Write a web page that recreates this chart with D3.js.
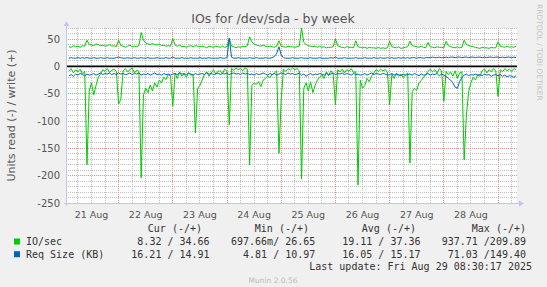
<!doctype html>
<html>
<head>
<meta charset="utf-8">
<title>IOs for /dev/sda - by week</title>
<script src="https://d3js.org/d3.v7.min.js"></script>
<style>
  body { margin: 0; background: #f0f0f0; }
  svg { display: block; }
</style>
</head>
<body>
<div id="chart"></div>
<script>
// hourly samples, first one at Aug 21 02:00
var startTime = new Date(2025, 7, 21, 2, 0);

// write IO/sec (+)
var writeIO = [
  36,35,38,36,37,35,38,37,48,40,
  39,38,41,40,38,39,37,38,40,37,
  38,36,48,38,37,35,37,39,36,37,
  36,38,62,48,43,41,40,42,40,39,
  41,38,39,37,38,37,51,39,37,39,
  36,37,35,37,38,36,38,37,36,37,
  36,34,37,36,35,37,36,35,37,35,
  36,51,37,36,34,36,35,37,36,38,
  54,45,41,39,38,37,39,37,36,37,
  36,35,37,47,37,36,35,37,36,36,
  35,36,37,70,44,40,38,37,36,37,
  35,37,35,36,34,35,35,36,50,38,
  36,35,34,36,35,35,34,47,36,35,
  34,35,33,35,34,34,33,35,33,34,
  33,34,46,36,35,34,36,33,34,35,
  36,46,38,37,36,35,37,35,34,44,
  36,35,34,36,35,35,34,46,38,36,
  35,34,36,34,35,48,40,38,37,36,
  35,34,33,35,34,34,33,35,34,34,
  45,37,36,35,37,35,36,35,37
];

// read IO/sec (-), drawn below zero
var readIO = [
  8,4,12,6,10,5,14,9,180,45,
  30,52,35,20,14,6,9,4,11,7,
  5,9,69,60,8,4,10,6,3,12,
  7,9,204,52,40,48,34,45,30,38,
  25,30,20,24,15,18,73,12,22,10,
  18,14,20,12,16,15,122,40,35,25,
  15,10,18,12,6,14,9,8,13,5,
  9,107,4,7,3,6,4,8,3,5,
  180,35,30,33,28,37,25,22,18,20,
  15,12,8,159,61,5,9,4,7,3,
  6,4,8,206,40,30,45,28,48,35,
  25,20,15,22,10,17,8,14,70,6,
  10,5,12,6,9,4,11,10,217,25,
  40,35,22,28,18,12,6,9,5,8,
  6,10,70,14,22,12,18,14,20,16,
  12,177,46,40,44,30,26,20,15,9,
  5,10,6,12,4,8,64,9,15,10,
  18,8,22,12,10,171,89,46,30,20,
  25,15,18,8,5,12,6,10,4,8,
  55,6,10,4,8,5,9,4,6
];

// write request size KB (+)
var writeSize = [
  15,16,15,15,16,15,16,15,16,15,
  15,16,15,15,16,15,15,16,15,15,
  15,16,17,16,15,15,16,15,15,16,
  15,15,16,15,15,16,15,15,15,16,
  15,15,15,16,15,15,17,15,15,15,
  16,15,15,15,16,15,15,15,16,15,
  15,15,16,15,15,15,15,16,15,15,
  16,52,17,15,15,16,15,15,15,15,
  16,15,15,16,15,15,15,16,15,15,
  16,18,24,36,21,16,15,15,15,16,
  15,15,15,16,15,15,15,16,15,15,
  15,16,15,15,15,15,16,15,17,15,
  15,15,16,15,15,15,15,16,15,15,
  15,16,15,15,15,16,15,15,16,15,
  15,16,15,16,15,15,16,15,16,15,
  16,15,16,16,15,16,16,15,16,16,
  16,17,16,16,17,16,16,17,16,17,
  17,16,17,17,16,17,17,16,17,17,
  16,17,17,16,17,16,17,17,16,17,
  17,16,17,16,17,17,16,17,16
];

// read request size KB (-)
var readSize = [
  17,15,18,14,16,13,15,17,14,16,
  15,13,16,14,12,15,13,14,12,15,
  13,15,12,14,13,15,14,12,15,13,
  14,12,16,14,15,13,16,14,12,15,
  14,16,13,15,14,16,14,13,15,12,
  14,13,15,12,14,16,13,15,14,13,
  15,12,14,13,15,14,12,15,13,14,
  12,15,13,12,14,13,15,12,14,13,
  15,14,16,13,15,14,12,14,16,13,
  15,13,16,14,12,13,15,12,14,13,
  15,14,12,16,14,18,15,13,16,14,
  15,13,14,16,13,15,14,12,15,13,
  14,12,15,13,14,16,13,15,14,16,
  15,13,16,14,12,15,13,14,15,13,
  14,16,15,13,16,14,15,17,14,16,
  15,14,16,13,15,17,14,16,15,13,
  16,14,15,13,17,14,16,18,22,25,
  30,38,40,28,20,16,14,17,15,16,
  14,16,15,17,14,16,15,18,16,15,
  17,15,18,16,19,17,18,20,17
];

var yTicks = [50, 0, -50, -100, -150, -200, -250];
var dayLabels = ["21 Aug", "22 Aug", "23 Aug", "24 Aug", "25 Aug", "26 Aug", "27 Aug", "28 Aug"];

var legendHeads = ["Cur (-/+)", "Min (-/+)", "Avg (-/+)", "Max (-/+)"];
var legendNames = ["IO/sec", "Req Size (KB)"];
var legendColors = ["#00cc00", "#0066b3"];
var legendValues = [
  ["8.32 / 34.66", "697.66m/ 26.65", "19.11 / 37.36", "937.71 /209.89"],
  ["16.21 / 14.91", "4.81 / 10.97", "16.05 / 15.17", "71.03 /149.40"]
];
var lastUpdate = "Last update: Fri Aug 29 08:30:17 2025";

function drawChart(id, width, height)
{
    var left = 67, right = 517, top = 28, bottom = 203;

    var svg = d3.select(id).append("svg")
                .attr("width", width)
                .attr("height", height);

    // 1px dot patterns for the dotted grid
    var defs = svg.append("defs");
    function dotPattern(name, color, w, h) {
        defs.append("pattern")
            .attr("id", name)
            .attr("patternUnits", "userSpaceOnUse")
            .attr("width", w).attr("height", h)
          .append("rect")
            .attr("width", 1).attr("height", 1)
            .style("fill", color);
    }
    dotPattern("minV", "#c0c0c0", 1, 2);
    dotPattern("minH", "#c0c0c0", 2, 1);
    dotPattern("majV", "#ee8e8e", 1, 2);
    dotPattern("majH", "#ee8e8e", 2, 1);

    svg.append("rect")
       .attr("width", width).attr("height", height)
       .style("fill", "#f0f0f0");

    var x = d3.scaleTime()
              .domain([new Date(2025, 7, 21, 1, 9), new Date(2025, 7, 29, 8, 24)])
              .range([left, right]);
    var y = d3.scaleLinear()
              .domain([-250, 70.3])
              .range([bottom, top]);

    function timeAt(i) { return d3.timeHour.offset(startTime, i); }

    svg.append("rect")
       .attr("x", left).attr("y", top)
       .attr("width", right - left).attr("height", bottom - top)
       .style("fill", "#fff");

    // grid
    var grid = svg.append("g").attr("shape-rendering", "crispEdges");
    var minorX = d3.timeHour.every(6).range(x.domain()[0], x.domain()[1]);
    var majorX = d3.timeDay.range(x.domain()[0], x.domain()[1]);
    var minorY = d3.range(-240, 71, 10).filter(function(v) { return v % 50 != 0; });
    var majorY = d3.range(-200, 71, 50);

    function vlines(data, fill) {
        grid.selectAll(null).data(data).enter().append("rect")
            .attr("x", function(d) { return Math.floor(x(d)); })
            .attr("y", top).attr("width", 1).attr("height", bottom - top)
            .style("fill", fill);
    }
    function hlines(data, fill) {
        grid.selectAll(null).data(data).enter().append("rect")
            .attr("x", left).attr("width", right - left)
            .attr("y", function(d) { return Math.floor(y(d)); })
            .attr("height", 1)
            .style("fill", fill);
    }
    vlines(minorX, "url(#minV)");
    hlines(minorY, "url(#minH)");
    vlines(majorX, "url(#majV)");
    hlines(majorY, "url(#majH)");

    // series, reads go below zero
    var line = d3.line()
                 .x(function(d, i) { return x(timeAt(i)); })
                 .y(function(d) { return y(d); });

    var series = [
        { vals: readIO.map(function(v) { return -v; }), color: "#00cc00" },
        { vals: writeIO, color: "#00cc00" },
        { vals: readSize.map(function(v) { return -v; }), color: "#0066b3" },
        { vals: writeSize, color: "#0066b3" }
    ];
    svg.selectAll(".series").data(series).enter().append("path")
       .attr("d", function(d) { return line(d.vals); })
       .style("fill", "none")
       .style("stroke", function(d) { return d.color; })
       .style("stroke-width", 1);

    // zero line
    svg.append("line")
       .attr("x1", left).attr("x2", right)
       .attr("y1", y(0)).attr("y2", y(0))
       .style("stroke", "#000").style("stroke-width", 1.6);

    // axes with arrows
    var axisColor = "#c4c4f4";
    svg.append("line")
       .attr("x1", left - 0.5).attr("x2", left - 0.5).attr("y1", top - 4).attr("y2", bottom + 3)
       .style("stroke", axisColor);
    svg.append("line")
       .attr("x1", left - 3).attr("x2", right + 2).attr("y1", bottom + 0.5).attr("y2", bottom + 0.5)
       .style("stroke", axisColor);
    svg.append("path")
       .attr("d", "M" + (left - 3.5) + "," + (top - 2) + "L" + (left + 2.5) + "," + (top - 2) + "L" + (left - 0.5) + "," + (top - 7) + "Z")
       .style("fill", axisColor);
    svg.append("path")
       .attr("d", "M" + (right + 2) + "," + (bottom - 2.5) + "L" + (right + 2) + "," + (bottom + 3.5) + "L" + (right + 7) + "," + (bottom + 0.5) + "Z")
       .style("fill", axisColor);

    // tick labels
    svg.selectAll(".ytick").data(yTicks).enter().append("text")
       .attr("x", 60).attr("y", function(d) { return y(d) + 3.5; })
       .attr("text-anchor", "end")
       .style("font-family", "DejaVu Sans").style("font-size", "10px")
       .style("fill", "#555")
       .text(function(d) { return d; });

    svg.selectAll(".xtick").data(dayLabels).enter().append("text")
       .attr("x", function(d, i) { return x(new Date(2025, 7, 21 + i, 12)); })
       .attr("y", 218)
       .attr("text-anchor", "middle")
       .style("font-family", "DejaVu Sans").style("font-size", "9.5px")
       .style("fill", "#555")
       .text(function(d) { return d; });

    // title and labels
    svg.append("text")
       .attr("x", 273).attr("y", 23)
       .attr("text-anchor", "middle")
       .style("font-family", "DejaVu Sans").style("font-size", "12.5px")
       .style("fill", "#555")
       .text("IOs for /dev/sda - by week");

    svg.append("text")
       .attr("transform", "translate(15," + ((top + bottom) / 2) + ") rotate(-90)")
       .attr("text-anchor", "middle")
       .style("font-family", "DejaVu Sans").style("font-size", "11px")
       .style("fill", "#555")
       .text("Units read (-) / write (+)");

    svg.append("text")
       .attr("transform", "translate(537,4) rotate(90)")
       .style("font-family", "DejaVu Sans").style("font-size", "7.5px")
       .style("fill", "#c4c4c4")
       .text("RRDTOOL / TOBI OETIKER");

    // legend
    var mono = "DejaVu Sans Mono";
    var headEnds = [202, 309, 416, 526];
    var valEnds = [209.6, 315.3, 420.5, 526];

    svg.selectAll(".lhead").data(legendHeads).enter().append("text")
       .attr("x", function(d, i) { return headEnds[i]; })
       .attr("y", 232)
       .attr("text-anchor", "end")
       .style("font-family", mono).style("font-size", "10px")
       .style("fill", "#333")
       .text(function(d) { return d; });

    var rows = svg.selectAll(".lrow").data(legendNames).enter().append("g")
                  .attr("transform", function(d, i) { return "translate(0," + (245 + i * 12.7) + ")"; });
    rows.append("rect")
        .attr("x", 14).attr("y", -6.5).attr("width", 6).attr("height", 6)
        .style("fill", function(d, i) { return legendColors[i]; });
    rows.append("text")
        .attr("x", 26).attr("y", 0)
        .style("font-family", mono).style("font-size", "10px")
        .style("fill", "#333")
        .text(function(d) { return d; });
    rows.selectAll(".lval").data(function(d, i) { return legendValues[i]; }).enter().append("text")
        .attr("x", function(d, i) { return valEnds[i]; })
        .attr("y", 0)
        .attr("text-anchor", "end")
        .style("font-family", mono).style("font-size", "10px")
        .style("fill", "#333")
        .style("white-space", "pre")
        .text(function(d) { return d; });

    svg.append("text")
       .attr("x", 532).attr("y", 270)
       .attr("text-anchor", "end")
       .style("font-family", mono).style("font-size", "10px")
       .style("fill", "#333")
       .text(lastUpdate);

    svg.append("text")
       .attr("x", 273).attr("y", 283)
       .attr("text-anchor", "middle")
       .style("font-family", "DejaVu Sans").style("font-size", "7.5px")
       .style("fill", "#bbb")
       .text("Munin 2.0.56");
}

drawChart("#chart", 547, 287);
</script>
</body>
</html>
